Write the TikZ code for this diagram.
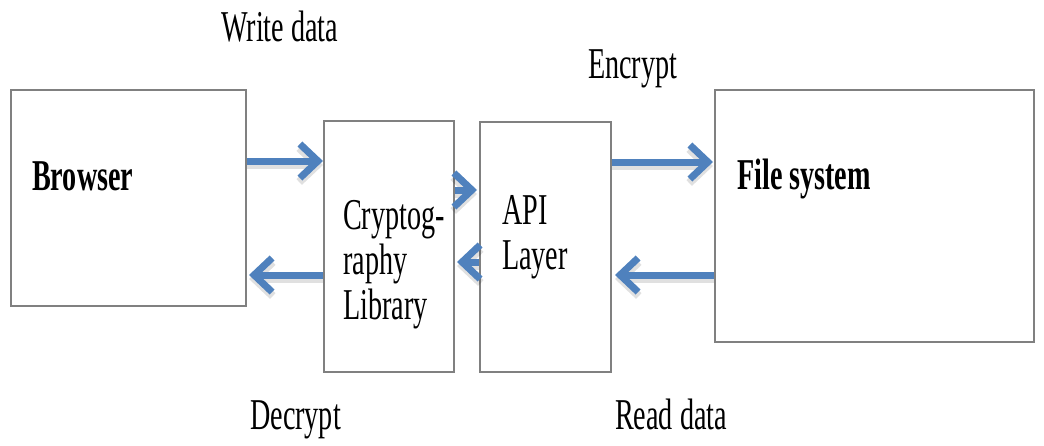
\documentclass[tikz,border=0pt]{standalone}
\usepackage{fontspec}
\setmainfont{Liberation Serif}[FakeStretch=0.64]
\usetikzlibrary{arrows.meta}
\definecolor{flowblue}{RGB}{79,129,189}
\definecolor{boxgray}{RGB}{128,128,128}
\tikzset{
  box/.style={draw=boxgray, line width=2pt, fill=white, inner sep=0pt, anchor=north west},
  lbl/.style={inner sep=0pt, anchor=base west, font=\fontsize{44}{45}\selectfont},
  blbl/.style={lbl, font=\fontsize{44}{45}\selectfont\bfseries},
  flow/.style={draw=flowblue, line width=7pt,
    -{Straight Barb[length=18pt,width=34pt,line width=7pt]}},
  flowshade/.style={draw=black, opacity=0.12, line width=8pt,
    -{Straight Barb[length=18pt,width=34pt,line width=8pt]}}
}
\begin{document}
\begin{tikzpicture}[x=1pt,y=-1pt]
\useasboundingbox (0,0) rectangle (1044,445);

% the four blocks
\node[box, minimum width=235pt, minimum height=216pt] (browser) at (10,89) {};
\node[box, minimum width=130pt, minimum height=251pt] (crypto) at (323,120) {};
\node[box, minimum width=131pt, minimum height=250pt] (api) at (479,121) {};
\node[box, minimum width=319pt, minimum height=252pt] (fs) at (714,89) {};

% block titles (multi-line nodes sit on the baseline of their last line)
\node[blbl] (browsertxt) at (32,190) {Browser};
\node[blbl] (fstxt) at (737,189) {File system};
\node[lbl, align=left] (cryptotxt) at (343,319) {Cryptog-\\raphy\\Library};
\node[lbl, align=left] (apitxt) at (502,269) {API\\Layer};

% flow labels
\node[lbl] (write) at (221,41) {Write data};
\node[lbl] (encrypt) at (588,78) {Encrypt};
\node[lbl] (decrypt) at (250,429) {Decrypt};
\node[lbl] (read) at (615,429) {Read data};

% soft shadows under the arrows
\begin{scope}[shift={(2,4)}]
\draw[flowshade] (browser.east |- 0,161) -- (crypto.west |- 0,161);
\draw[flowshade] (crypto.west |- 0,275) -- ([xshift=2pt]browser.east |- 0,275);
\draw[flowshade] (crypto.east |- 0,190) -- ([xshift=-2pt]api.west |- 0,190);
\draw[flowshade] (api.west |- 0,262) -- ([xshift=2pt]crypto.east |- 0,262);
\draw[flowshade] (api.east |- 0,162) -- ([xshift=-1pt]fs.west |- 0,162);
\draw[flowshade] (fs.west |- 0,275) -- ([xshift=3pt]api.east |- 0,275);
\end{scope}

% data flow arrows
\draw[flow] (browser.east |- 0,161) -- (crypto.west |- 0,161);
\draw[flow] (crypto.west |- 0,275) -- ([xshift=2pt]browser.east |- 0,275);
\draw[flow] (crypto.east |- 0,190) -- ([xshift=-2pt]api.west |- 0,190);
\draw[flow] (api.west |- 0,262) -- ([xshift=2pt]crypto.east |- 0,262);
\draw[flow] (api.east |- 0,162) -- ([xshift=-1pt]fs.west |- 0,162);
\draw[flow] (fs.west |- 0,275) -- ([xshift=3pt]api.east |- 0,275);
\end{tikzpicture}
\end{document}
